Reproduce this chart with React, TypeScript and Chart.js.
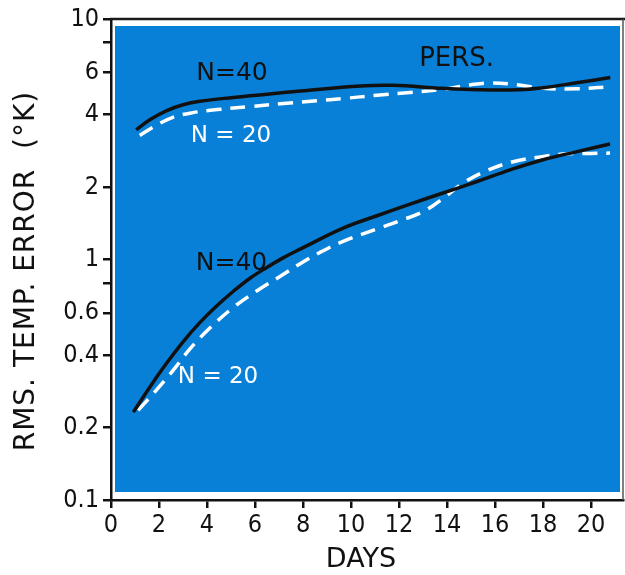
import React, { useEffect, useRef } from "react";
import { Chart, registerables } from "chart.js";

Chart.register(...registerables);

// ---- data ----
const upperN40Days = [1.05, 1.6, 2.3, 3.0, 3.7, 5.1, 6.5, 7.9, 10.4, 11.75, 13.8, 15.25, 17.0, 18.0, 19.4, 20.8];
const upperN40Vals = [3.46, 3.8, 4.15, 4.4, 4.55, 4.72, 4.87, 5.02, 5.27, 5.3, 5.15, 5.08, 5.08, 5.18, 5.43, 5.71];

const upperN20Days = [1.2, 1.9, 2.58, 3.42, 4.42, 5.79, 7.17, 8.58, 9.67, 11.08, 12.46, 13.83, 14.96, 15.79, 16.92, 18.0, 19.42, 20.79];
const upperN20Vals = [3.28, 3.62, 3.9, 4.08, 4.2, 4.32, 4.45, 4.57, 4.67, 4.82, 4.95, 5.1, 5.32, 5.42, 5.33, 5.15, 5.13, 5.23];

const lowerN40Days = [0.93, 1.63, 2.32, 3.01, 3.71, 4.4, 5.1, 5.79, 6.49, 7.17, 7.88, 9.67, 11.08, 12.46, 13.83, 15.25, 16.63, 18.0, 19.42, 20.79];
const lowerN40Vals = [0.232, 0.296, 0.371, 0.456, 0.548, 0.641, 0.738, 0.836, 0.927, 1.016, 1.104, 1.35, 1.52, 1.7, 1.89, 2.11, 2.36, 2.6, 2.81, 3.02];

const lowerN20Days = [1.13, 1.9, 2.58, 3.29, 4.13, 5.08, 6.07, 7.04, 7.88, 8.7, 9.67, 11.08, 12.04, 13.0, 13.85, 14.67, 15.65, 16.75, 17.88, 19.0, 20.0, 20.79];
const lowerN20Vals = [0.236, 0.287, 0.345, 0.425, 0.52, 0.63, 0.74, 0.85, 0.96, 1.07, 1.19, 1.34, 1.45, 1.58, 1.8, 2.08, 2.34, 2.55, 2.67, 2.75, 2.76, 2.77];

const xTickValues = [0, 2, 4, 6, 8, 10, 12, 14, 16, 18, 20];
const yTickValues = [0.1, 0.2, 0.4, 0.6, 0.8, 1, 2, 4, 6, 8, 10];
const yTickLabels = ["0.1", "0.2", "0.4", "0.6", "", "1", "2", "4", "6", "", "10"];

const annotations = [
  { text: "N=40", x: 5.04, y: 5.95, color: "#111111", size: 25 },
  { text: "N = 20", x: 5.0, y: 3.26, color: "#ffffff", size: 23 },
  { text: "PERS.", x: 14.4, y: 6.8, color: "#111111", size: 26 },
  { text: "N=40", x: 5.02, y: 0.967, color: "#111111", size: 25 },
  { text: "N = 20", x: 4.46, y: 0.326, color: "#ffffff", size: 23 },
];

const xTitle = "DAYS";
const yTitle = "RMS. TEMP. ERROR  (°K)";

const pts = (xs: number[], ys: number[]) => xs.map((x, i) => ({ x, y: ys[i] }));

const TICK_FONT = "'Liberation Sans Narrow', 'DejaVu Sans Condensed', 'DejaVu Sans', sans-serif";
const TEXT_FONT = "'DejaVu Sans', sans-serif";
const BLUE = "#0880d8";

const decorPlugin = {
  id: "decor",
  beforeDatasetsDraw(chart: any) {
    const { ctx, chartArea } = chart;
    const { left, right, top, bottom } = chartArea;
    ctx.save();
    ctx.fillStyle = BLUE;
    ctx.fillRect(left + 4, top + 7, right - 3 - (left + 4), bottom - 8 - (top + 7));
    ctx.restore();
  },
  afterDraw(chart: any) {
    const { ctx, chartArea, scales } = chart;
    const { left, right, top, bottom } = chartArea;
    ctx.save();
    ctx.strokeStyle = "#1a1a1a";
    ctx.lineWidth = 2.5;
    ctx.beginPath();
    ctx.moveTo(left - 1, top);
    ctx.lineTo(625, top);
    ctx.stroke();
    ctx.strokeStyle = "#555555";
    ctx.lineWidth = 1.5;
    ctx.beginPath();
    ctx.moveTo(right, top);
    ctx.lineTo(right, bottom);
    ctx.stroke();
    ctx.textAlign = "center";
    ctx.textBaseline = "middle";
    for (const a of annotations) {
      ctx.fillStyle = a.color;
      ctx.font = `${a.size}px ${TEXT_FONT}`;
      ctx.fillText(a.text, scales.x.getPixelForValue(a.x), scales.y.getPixelForValue(a.y));
    }
    ctx.fillStyle = "#111111";
    ctx.font = `27px ${TEXT_FONT}`;
    ctx.fillText(xTitle, (left + right) / 2 - 6, 560);
    ctx.translate(27, 271);
    ctx.rotate(-Math.PI / 2);
    ctx.font = `28px ${TEXT_FONT}`;
    try {
      (ctx as any).letterSpacing = "1px";
    } catch (e) {}
    ctx.fillText(yTitle, 0, 0);
    ctx.restore();
  },
};

export default function App() {
  const ref = useRef<HTMLCanvasElement | null>(null);
  useEffect(() => {
    if (!ref.current) return;
    const lineCommon = { pointRadius: 0, borderWidth: 3.5, tension: 0.4 };
    const chart = new Chart(ref.current, {
      type: "line",
      data: {
        datasets: [
          { label: "PERS. N=40", data: pts(upperN40Days, upperN40Vals), borderColor: "#111111", ...lineCommon },
          { label: "PERS. N=20", data: pts(upperN20Days, upperN20Vals), borderColor: "#ffffff", borderDash: [15, 9], ...lineCommon },
          { label: "N=40", data: pts(lowerN40Days, lowerN40Vals), borderColor: "#111111", ...lineCommon },
          { label: "N=20", data: pts(lowerN20Days, lowerN20Vals), borderColor: "#ffffff", borderDash: [15, 9], ...lineCommon },
        ],
      },
      options: {
        responsive: false,
        animation: false,
        layout: { padding: { top: 17, right: 2, left: 0, bottom: 0 } },
        plugins: { legend: { display: false }, tooltip: { enabled: false } },
        scales: {
          x: {
            type: "linear",
            min: 0,
            max: 21.33,
            afterFit: (s: any) => {
              s.height = 75;
            },
            afterBuildTicks: (s: any) => {
              s.ticks = xTickValues.map((v) => ({ value: v }));
            },
            ticks: {
              color: "#111111",
              font: { family: TICK_FONT, size: 25 },
              padding: 2,
              maxRotation: 0,
              autoSkip: false,
              callback: (v: any) => String(v),
            },
            grid: { drawOnChartArea: false, drawTicks: true, tickLength: 8, color: "#111111", lineWidth: 2.5 },
            border: { display: true, color: "#111111", width: 2.5 },
          },
          y: {
            type: "logarithmic",
            min: 0.1,
            max: 10,
            afterFit: (s: any) => {
              s.width = 111;
            },
            afterBuildTicks: (s: any) => {
              s.ticks = yTickValues.map((v) => ({ value: v }));
            },
            ticks: {
              color: "#111111",
              font: { family: TICK_FONT, size: 25 },
              padding: 4,
              autoSkip: false,
              callback: (v: any) => {
                const i = yTickValues.findIndex((t) => Math.abs(t - v) < 1e-9);
                return i >= 0 ? yTickLabels[i] : "";
              },
            },
            grid: { drawOnChartArea: false, drawTicks: true, tickLength: 8, color: "#111111", lineWidth: 2.5 },
            border: { display: true, color: "#111111", width: 2.5 },
          },
        },
      },
      plugins: [decorPlugin],
    } as any);
    return () => chart.destroy();
  }, []);
  return (
    <div style={{ position: "fixed", left: 0, top: 0, width: 625, height: 575, background: "#ffffff" }}>
      <canvas ref={ref} width={625} height={575} style={{ display: "block", width: 625, height: 575 }} />
    </div>
  );
}
